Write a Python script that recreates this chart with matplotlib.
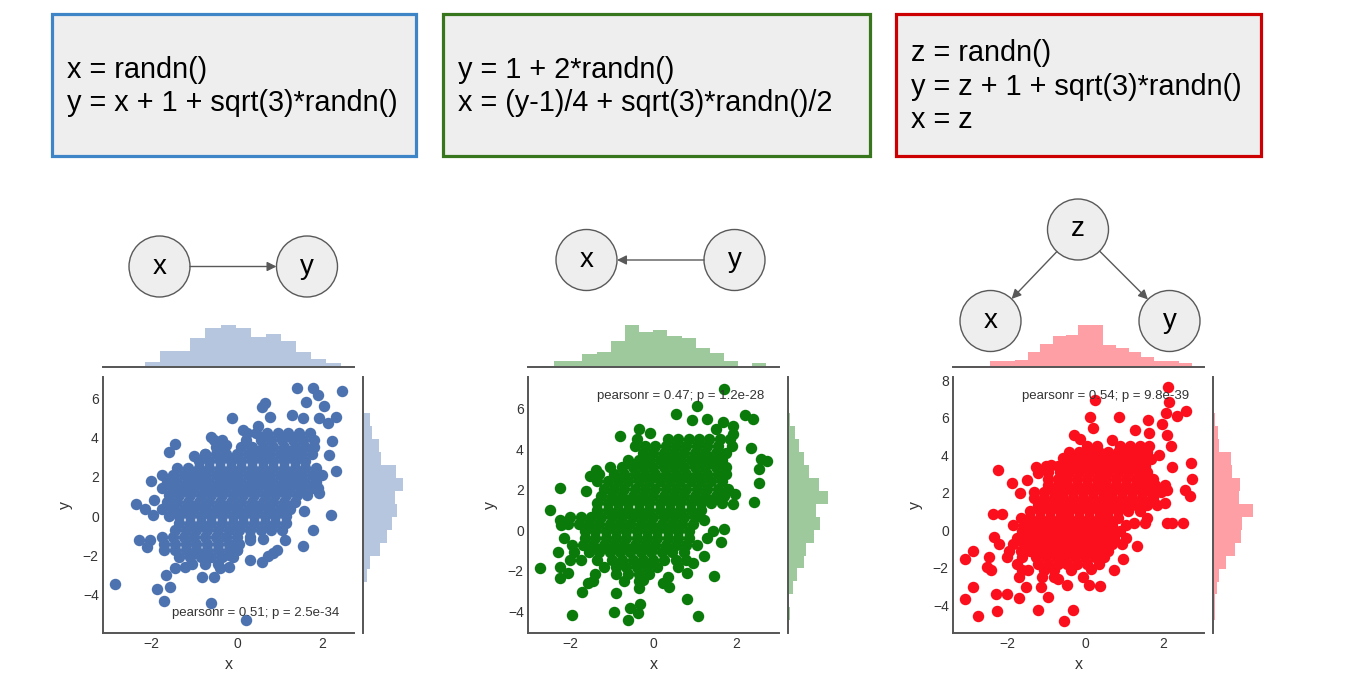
import numpy as np
import matplotlib
matplotlib.use('Agg')
import matplotlib.pyplot as plt
from matplotlib.patches import Rectangle, Circle

plt.rcParams['font.family'] = ['Liberation Sans', 'DejaVu Sans']

W, H = 1350, 678

# ---- scatter points (dense core as rows + scattered points) ----
blue_rows_y = [4.2, 3.85, 3.5, 3.15, 2.8, 2.45, 2.1, 1.75, 1.4, 1.05, 0.7, 0.35, 0.0,
               -0.35, -0.7, -1.05, -1.4, -1.75, -2.1, -2.45]
blue_rows_x = [
    [0.45, 0.7, 0.95, 1.2, 1.45, 1.7],
    [-0.55, -0.35, 0.2, 0.55, 0.8, 1.05, 1.3, 1.55, 1.8],
    [-0.5, -0.3, 0.1, 0.35, 0.6, 0.85, 1.1, 1.35, 1.6, 1.8],
    [-0.75, -0.5, -0.25, 0.0, 0.25, 0.5, 0.75, 1.0, 1.25, 1.5, 1.75],
    [-0.9, -0.65, -0.4, -0.15, 0.1, 0.35, 0.6, 0.85, 1.1, 1.35, 1.6],
    [-1.4, -1.15, -0.9, -0.65, -0.4, -0.15, 0.1, 0.35, 0.6, 0.85, 1.1, 1.35, 1.6, 1.85],
    [-1.75, -1.5, -1.25, -1.0, -0.75, -0.5, -0.25, 0.0, 0.25, 0.5, 0.75, 1.0, 1.25, 1.5, 1.75, 2.0],
    [-1.65, -1.4, -1.15, -0.9, -0.65, -0.4, -0.15, 0.1, 0.35, 0.6, 0.85, 1.1, 1.35, 1.6, 1.85],
    [-1.75, -1.5, -1.25, -1.0, -0.75, -0.5, -0.25, 0.0, 0.25, 0.5, 0.75, 1.0, 1.25, 1.5, 1.75, 1.9],
    [-1.6, -1.35, -1.1, -0.85, -0.6, -0.35, -0.1, 0.15, 0.4, 0.65, 0.9, 1.15, 1.4, 1.65],
    [-1.65, -1.4, -1.15, -0.9, -0.65, -0.4, -0.15, 0.1, 0.35, 0.6, 0.85, 1.1, 1.35],
    [-1.75, -1.5, -1.25, -1.0, -0.75, -0.5, -0.25, 0.0, 0.25, 0.5, 0.75, 1.0, 1.25],
    [-1.6, -1.35, -1.1, -0.85, -0.6, -0.35, -0.1, 0.15, 0.4, 0.65, 0.9, 1.15],
    [-1.35, -1.1, -0.85, -0.6, -0.35, -0.1, 0.15, 0.4, 0.65, 0.9, 1.15],
    [-1.45, -1.2, -0.95, -0.7, -0.45, -0.2, 0.05, 0.3, 0.55, 0.8, 1.05],
    [-1.75, -1.5, -1.25, -1.0, -0.75, -0.5, -0.25, 0.0, 0.3],
    [-1.7, -1.45, -1.2, -0.95, -0.7, -0.45, -0.2, 0.05],
    [-1.7, -1.45, -1.2, -0.95, -0.7, -0.45, -0.2, 0.0],
    [-1.35, -1.1, -0.85, -0.6, -0.35, -0.1],
    [-1.05, -0.75, -0.45],
]
blue_out_x = [-2.85, -2.375, -2.29, -2.16, -2.12, -2.02, -1.95, -1.97, -2.05, -1.88, -1.70, -1.57,
              -1.66, -1.60, -1.45, -1.46, -1.23, -1.01, -0.82, -0.62, -0.75, -0.60, -0.27, -0.125,
              0.21, -0.55, -0.40, -0.19, 0.15, 0.23, 0.59, 0.66, 0.49, 0.77, 1.41, 1.78, 1.90, 1.61,
              2.04, 2.46, 1.28, 1.54, 1.91, 2.31, 2.14, 2.23, 2.15, 2.33, 1.91, 2.20, 1.77, 1.55,
              1.56, 1.125, 0.59, 0.30, 0.60, 0.85, 0.93, 0.73, 0.30, 0.0, -0.18]
blue_out_y = [-3.47, 0.61, -1.22, 0.36, -1.59, 1.80, 0.80, 0.03, -1.22, -3.73, -4.32, -3.59,
              -3.02, 3.25, 3.64, -2.66, -2.59, 3.05, -3.08, -4.41, 3.14, 4.0, 3.59, 4.97,
              -5.29, -3.08, -2.66, -2.58, 4.37, 4.2, 5.53, 5.73, 4.58, 5.05, 6.53, 6.49, 6.15, 5.81,
              5.61, 6.37, 5.14, 5.0, 5.0, 5.02, 4.71, 3.83, 3.10, 2.31, 1.15, 0.05, -0.71, -1.53,
              0.25, -1.22, -2.36, -1.22, -1.19, -1.90, -1.73, -2.02, -2.24, -1.73, -1.98]

green_rows_y = [4.5, 4.15, 3.8, 3.45, 3.1, 2.75, 2.4, 2.05, 1.7, 1.35, 1.0, 0.65, 0.3,
                -0.05, -0.4, -0.75, -1.1, -1.45, -1.8, -2.15, -2.5]
green_rows_x = [
    [-0.4, 0.35, 0.6, 0.85, 1.1, 1.35, 1.6, 1.85],
    [-0.45, -0.2, 0.05, 0.3, 0.55, 0.8, 1.05, 1.3, 1.55, 1.9],
    [-0.25, 0.0, 0.25, 0.5, 0.75, 1.0, 1.25, 1.5, 1.75],
    [-0.6, -0.35, -0.1, 0.15, 0.4, 0.65, 0.9, 1.15, 1.4, 1.65],
    [-1.05, -0.75, -0.5, -0.25, 0.0, 0.25, 0.5, 0.75, 1.0, 1.25, 1.5, 1.75],
    [-1.3, -0.95, -0.7, -0.45, -0.2, 0.05, 0.3, 0.55, 0.8, 1.05, 1.3, 1.55, 1.75],
    [-1.35, -1.1, -0.85, -0.6, -0.35, -0.1, 0.15, 0.4, 0.65, 0.9, 1.15, 1.4, 1.65],
    [-1.2, -0.95, -0.7, -0.45, -0.2, 0.05, 0.3, 0.55, 0.8, 1.05, 1.3, 1.55, 1.8],
    [-1.25, -1.0, -0.75, -0.5, -0.25, 0.0, 0.25, 0.5, 0.75, 1.0, 1.25, 1.5, 1.7],
    [-1.35, -1.1, -0.85, -0.6, -0.35, -0.1, 0.15, 0.4, 0.65, 0.9, 1.15, 1.4, 1.65],
    [-1.35, -1.1, -0.85, -0.6, -0.35, -0.1, 0.15, 0.4, 0.65, 0.9, 1.15],
    [-2.0, -1.75, -1.5, -1.25, -1.0, -0.75, -0.5, -0.25, 0.0, 0.25, 0.5, 0.75, 1.0],
    [-2.05, -1.8, -1.55, -1.3, -1.05, -0.8, -0.55, -0.3, -0.05, 0.2, 0.45, 0.7, 0.95],
    [-1.65, -1.4, -1.15, -0.9, -0.65, -0.4, -0.15, 0.1, 0.35, 0.6, 0.85, 1.45],
    [-2.15, -1.65, -1.4, -1.15, -0.9, -0.65, -0.4, -0.15, 0.1, 0.35, 0.6, 0.85, 1.3],
    [-1.95, -1.7, -1.45, -1.2, -0.95, -0.7, -0.45, -0.2, 0.05, 0.3, 0.55, 0.8, 1.05],
    [-1.9, -1.55, -1.3, -1.05, -0.8, -0.55, -0.3, -0.05, 0.2, 0.45, 0.75],
    [-2.0, -1.75, -1.35, -1.0, -0.75, -0.5, -0.25, 0.0, 0.25, 0.55, 0.8],
    [-1.2, -0.9, -0.65, -0.4, -0.15, 0.1, 0.6],
    [-1.4, -0.9, -0.6, -0.35, -0.1],
    [-1.45, -0.7, -0.35],
]
green_out_x = [-2.73, -2.49, -2.26, -2.26, -2.23, -2.29, -2.26, -2.25, -2.05, -1.97, -1.73, -1.57,
               -1.61, -1.53, -1.38, -0.95, -0.89, -0.81, -0.61, -0.57, -0.37, -0.31, -0.34, -0.34,
               -0.09, 0.55, 0.94, 1.06, 1.30, 1.71, 1.67, 1.51, 1.91, 1.91, 2.22, 2.41, 2.35, 2.59,
               2.73, 2.54, 2.54, 2.42, 1.97, 1.93, 1.71, 1.63, 1.46, 0.82, 1.07, 0.82, 0.95, 1.23,
               1.23, 0.23, 0.35, 0.38, -0.25]
green_out_y = [-1.89, 0.98, 2.08, 0.49, 0.25, -1.07, -1.84, -2.38, -2.13, -4.18, -3.03, -2.62,
               1.93, 2.67, 2.98, -4.02, -3.11, 4.62, -4.43, -3.85, -4.10, -3.64, -2.87, 5.0,
               4.79, 5.74, 5.41, 6.10, 5.46, 6.97, 5.33, 5.0, 5.11, 4.75, 5.66, 5.49, 4.07, 3.52,
               3.41, 3.03, 2.30, 1.39, 1.77, 1.31, 0.08, -0.57, -2.26, -3.41, -4.23, -2.13, -1.61, -1.28,
               0.49, -2.62, -2.30, -2.79, -2.46]

red_rows_y = [4.5, 4.15, 3.8, 3.45, 3.1, 2.75, 2.4, 2.05, 1.7, 1.35, 1.0, 0.65, 0.3,
              -0.05, -0.4, -0.75, -1.1, -1.45, -1.8, -2.15, -2.5]
red_rows_x = [
    [0.05, 0.3, 0.9, 1.15, 1.4, 1.65],
    [-0.4, -0.15, 0.1, 0.35, 0.6, 0.85, 1.1, 1.35, 1.6],
    [-0.3, -0.05, 0.2, 0.45, 0.7, 0.95, 1.2, 1.45, 1.7],
    [-1.0, -0.7, -0.45, -0.2, 0.05, 0.3, 0.55, 0.8, 1.05, 1.3, 1.55],
    [-0.95, -0.65, -0.4, -0.15, 0.1, 0.35, 0.6, 0.85, 1.1, 1.35, 1.6],
    [-0.95, -0.7, -0.45, -0.2, 0.05, 0.3, 0.55, 0.8, 1.05, 1.3, 1.55, 1.75],
    [-0.95, -0.7, -0.45, -0.2, 0.05, 0.3, 0.55, 0.8, 1.05, 1.3, 1.55, 1.8, 2.05],
    [-1.3, -1.05, -0.8, -0.55, -0.3, -0.05, 0.2, 0.45, 0.7, 0.95, 1.2, 1.45, 1.7, 1.95],
    [-1.3, -1.05, -0.8, -0.55, -0.3, -0.05, 0.2, 0.45, 0.7, 0.95, 1.2, 1.45, 1.75],
    [-1.2, -0.95, -0.7, -0.45, -0.2, 0.05, 0.3, 0.55, 0.8, 1.05, 1.3, 1.6, 1.85],
    [-1.4, -1.15, -0.9, -0.65, -0.4, -0.15, 0.1, 0.35, 0.6, 0.85, 1.1, 1.4],
    [-1.65, -1.4, -1.15, -0.9, -0.65, -0.4, -0.15, 0.1, 0.35, 0.6, 0.85, 1.6],
    [-1.85, -1.55, -1.3, -1.05, -0.8, -0.55, -0.3, -0.05, 0.2, 0.45, 0.7, 1.05],
    [-1.6, -1.35, -1.1, -0.85, -0.6, -0.35, -0.1, 0.15, 0.4, 0.65, 0.9],
    [-1.75, -1.5, -1.25, -1.0, -0.75, -0.5, -0.25, 0.0, 0.25, 0.5, 0.75, 1.05],
    [-2.2, -1.85, -1.55, -1.3, -1.05, -0.8, -0.55, -0.3, -0.05, 0.2, 0.45, 0.7, 0.95],
    [-1.95, -1.65, -1.4, -1.15, -0.9, -0.65, -0.4, -0.15, 0.1, 0.35, 0.6],
    [-2.45, -2.0, -1.6, -1.25, -1.0, -0.75, -0.5, -0.25, 0.0, 0.25, 0.5],
    [-1.75, -1.2, -0.95, -0.7, -0.45, -0.2, 0.05, 0.35],
    [-1.6, -1.45, -1.05, -0.8, -0.35],
    [-1.7, -1.1, -0.8],
]
red_out_x = [-3.06, -3.06, -2.87, -2.87, -2.74, -2.36, -2.13, -2.32, -2.23, -2.51, -2.40, -2.27,
             -2.0, -2.26, -1.69, -1.87, -1.66, -1.49, -1.25, -1.21, -0.86, -1.21, -0.54, -0.31,
             -0.45, -0.69, -1.50, -1.12, -0.95, 0.10, 0.38, -0.05, 0.16, 0.74, 0.97, 1.33, 1.26,
             1.55, 2.09, 2.24, 2.50, 2.05, 2.10, 2.56, 2.70, 2.75, 2.71, 2.24, 2.21, 2.10, 1.98,
             1.90, 2.07, 2.36, 2.60, 2.15, 2.13, 1.62, 1.64, 1.27, 0.87, 0.12, 0.27, 0.21, -0.28,
             -0.12, 0.69, -0.56]
red_out_y = [-3.66, -1.55, -1.11, -3.04, -4.59, 0.86, 0.86, -0.36, 3.21, -1.96, -2.14, -3.43,
             -3.43, -4.29, -3.63, 2.5, 1.96, 2.68, 3.39, 3.04, 3.48, -4.25, -4.86, -4.25,
             -2.95, -2.59, -3.04, -3.04, -3.57, -2.95, -2.98, -2.5, -2.05, -2.11, -1.52, -0.86, 0.36,
             0.39, 0.41, 0.39, 0.39, 1.46, 2.14, 2.14, 1.84, 2.71, 3.57, 3.36, 4.52, 5.09, 5.66,
             4.02, 6.25, 6.11, 6.38, 6.82, 7.63, 5.89, 5.21, 5.36, 6.04, 6.07, 6.96, 5.48, 5.09,
             4.88, 4.79, 3.84]

# ---- marginal histograms (bin edges and counts) ----
blue_xbins = [-2.51, -2.156, -1.802, -1.448, -1.094, -0.74, -0.386, -0.032, 0.322, 0.676,
              1.03, 1.384, 1.738, 2.092, 2.446]
blue_xcounts = [2, 8, 26, 26, 47, 65, 69, 65, 49, 55, 43, 24, 13, 6]
blue_ybins = [-5.32, -4.66, -4.0, -3.34, -2.68, -2.02, -1.36, -0.70, -0.04, 0.62, 1.28, 1.94,
              2.60, 3.26, 3.92, 4.58, 5.24, 5.90, 6.56]
blue_ycounts = [1, 1, 2, 8, 13, 31, 44, 53, 61, 58, 73, 59, 33, 29, 16, 13, 2, 2]

green_xbins = [-2.73, -2.389, -2.048, -1.707, -1.366, -1.025, -0.684, -0.343, -0.002, 0.339,
               0.68, 1.021, 1.362, 1.703, 2.044, 2.385, 2.726]
green_xcounts = [1, 9, 10, 21, 25, 43, 68, 57, 60, 50, 47, 31, 23, 10, 0, 6]
green_ybins = [-4.45, -3.81, -3.17, -2.53, -1.89, -1.25, -0.61, 0.03, 0.67, 1.31, 1.95, 2.59,
               3.23, 3.87, 4.51, 5.15, 5.79, 6.43, 7.07]
green_ycounts = [4, 1, 8, 15, 26, 29, 43, 53, 46, 67, 52, 34, 26, 19, 12, 4, 2, 1]

red_xbins = [-3.08, -2.757, -2.434, -2.111, -1.788, -1.465, -1.142, -0.819, -0.496, -0.173,
             0.15, 0.473, 0.796, 1.119, 1.442, 1.765, 2.088, 2.411, 2.734]
red_xcounts = [2, 1, 10, 9, 12, 25, 37, 50, 52, 68, 68, 36, 31, 25, 16, 10, 9, 7]
red_ybins = [-4.82, -4.127, -3.434, -2.741, -2.048, -1.355, -0.662, 0.031, 0.724, 1.417,
             2.11, 2.803, 3.496, 4.189, 4.882, 5.575, 6.268, 6.961, 7.654]
red_ycounts = [3, 3, 6, 10, 21, 36, 47, 48, 67, 43, 44, 31, 29, 10, 8, 3, 2, 1]

stats = ['pearsonr = 0.51; p = 2.5e-34', 'pearsonr = 0.47; p = 1.2e-28',
         'pearsonr = 0.54; p = 9.8e-39']

box_lines = [
    ['x = randn()', 'y = x + 1 + sqrt(3)*randn()'],
    ['y = 1 + 2*randn()', 'x = (y-1)/4 + sqrt(3)*randn()/2'],
    ['z = randn()', 'y = z + 1 + sqrt(3)*randn()', 'x = z'],
]

fig = plt.figure(figsize=(13.5, 6.78), dpi=100)
fig.patch.set_facecolor('white')


def px_axes(x0, y0, x1, y1, **kw):
    return fig.add_axes([x0 / W, 1 - y1 / H, (x1 - x0) / W, (y1 - y0) / H], **kw)


def flatten(rows_y, rows_x, out_x, out_y):
    xs, ys = [], []
    for yv, xr in zip(rows_y, rows_x):
        xs.extend(xr)
        ys.extend([yv] * len(xr))
    return np.array(xs + out_x), np.array(ys + out_y)


def joint(box, xlim, ylim, yticks, xs, ys, color, xbins, xcounts, ybins, ycounts,
          stat, stat_y):
    x0, y0, x1, y1 = box
    ax = px_axes(x0, y0, x1, y1)
    axx = px_axes(x0, y0 - 54, x1, y0 - 10)
    axy = px_axes(x1 + 9, y0, x1 + 51.5, y1)
    for a in (ax, axx, axy):
        a.set_facecolor('none')
        for s in a.spines.values():
            s.set_visible(False)
            s.set_color('#555555')
            s.set_linewidth(1.4)

    ax.scatter(xs, ys, s=68, color=color, linewidths=0)
    ax.set_xlim(xlim)
    ax.set_ylim(ylim)
    ax.set_xticks([-2, 0, 2])
    ax.set_yticks(yticks)
    ax.tick_params(length=0, labelsize=10, labelcolor='#333333', pad=3)
    ax.spines['left'].set_visible(True)
    ax.spines['bottom'].set_visible(True)
    ax.set_xlabel('x', fontsize=11.5, color='#333333', labelpad=4)
    ax.set_ylabel('y', fontsize=11.5, color='#333333', labelpad=7)
    ax.text(0.942, stat_y, stat, transform=ax.transAxes, ha='right', va='center',
            fontsize=9.5, color='#333333')

    xb = np.array(xbins)
    axx.bar(xb[:-1], xcounts, width=np.diff(xb), align='edge', color=color, alpha=0.4,
            linewidth=0)
    axx.set_xlim(xlim)
    axx.set_xticks([])
    axx.set_yticks([])
    axx.spines['bottom'].set_visible(True)

    yb = np.array(ybins)
    axy.barh(yb[:-1], ycounts, height=np.diff(yb), align='edge', color=color, alpha=0.4,
             linewidth=0)
    axy.set_ylim(ylim)
    axy.set_xticks([])
    axy.set_yticks([])
    axy.spines['left'].set_visible(True)


bx, by = flatten(blue_rows_y, blue_rows_x, blue_out_x, blue_out_y)
gx, gy = flatten(green_rows_y, green_rows_x, green_out_x, green_out_y)
rx, ry = flatten(red_rows_y, red_rows_x, red_out_x, red_out_y)

joint((103, 377, 354, 633), (-3.14, 2.74), (-5.95, 7.07), [-4, -2, 0, 2, 4, 6],
      bx, by, '#4c72b0', blue_xbins, blue_xcounts, blue_ybins, blue_ycounts, stats[0], 0.077)
joint((528, 377, 779, 633), (-3.02, 3.03), (-5.07, 7.55), [-4, -2, 0, 2, 4, 6],
      gx, gy, '#0a7a0a', green_xbins, green_xcounts, green_ybins, green_ycounts, stats[1], 0.926)
joint((953, 377, 1204, 633), (-3.38, 3.05), (-5.49, 8.18), [-4, -2, 0, 2, 4, 6, 8],
      rx, ry, '#fc0f1c', red_xbins, red_xcounts, red_ybins, red_ycounts, stats[2], 0.926)

# ---- slide overlay: code boxes and causal diagrams (pixel coordinates) ----
ov = fig.add_axes([0, 0, 1, 1], zorder=10)
ov.set_facecolor('none')
ov.set_xlim(0, W)
ov.set_ylim(H, 0)
ov.axis('off')

boxes = [(52, 14, 416, 156, '#3d85c6'), (443, 14, 870, 156, '#38761d'),
         (896, 14, 1261, 156, '#cc0000')]
line_y = [[70, 103], [70, 103], [53, 87, 120]]
for (x0, y0, x1, y1, ec), lines, ly in zip(boxes, box_lines, line_y):
    ov.add_patch(Rectangle((x0, y0), x1 - x0, y1 - y0, facecolor='#eeeeee', edgecolor=ec,
                           linewidth=2.3))
    for t, yy in zip(lines, ly):
        ov.text(x0 + 15, yy, t, fontsize=20.8, color='black', ha='left', va='center')

nodes = {'x1': (159.5, 266.5, 'x'), 'y1': (307, 266.5, 'y'),
         'x2': (586.5, 260, 'x'), 'y2': (734.5, 260, 'y'),
         'z3': (1078, 229.5, 'z'), 'x3': (990.5, 321, 'x'), 'y3': (1169.5, 321, 'y')}
R = 30.5
for cx, cy, lab in nodes.values():
    ov.add_patch(Circle((cx, cy), R, facecolor='#eeeeee', edgecolor='#595959', linewidth=1))
    ov.text(cx, cy, lab, fontsize=20, ha='center', va='center', color='black')

edges = [('x1', 'y1'), ('y2', 'x2'), ('z3', 'x3'), ('z3', 'y3')]
for a, b in edges:
    ax_, ay_ = nodes[a][:2]
    bx_, by_ = nodes[b][:2]
    d = np.hypot(bx_ - ax_, by_ - ay_)
    ux, uy = (bx_ - ax_) / d, (by_ - ay_) / d
    ov.annotate('', xy=(bx_ - ux * R, by_ - uy * R), xytext=(ax_ + ux * R, ay_ + uy * R),
                arrowprops=dict(arrowstyle='-|>', color='#595959', lw=1, mutation_scale=14,
                                shrinkA=0, shrinkB=0))

fig.savefig('out.png', dpi=100)
